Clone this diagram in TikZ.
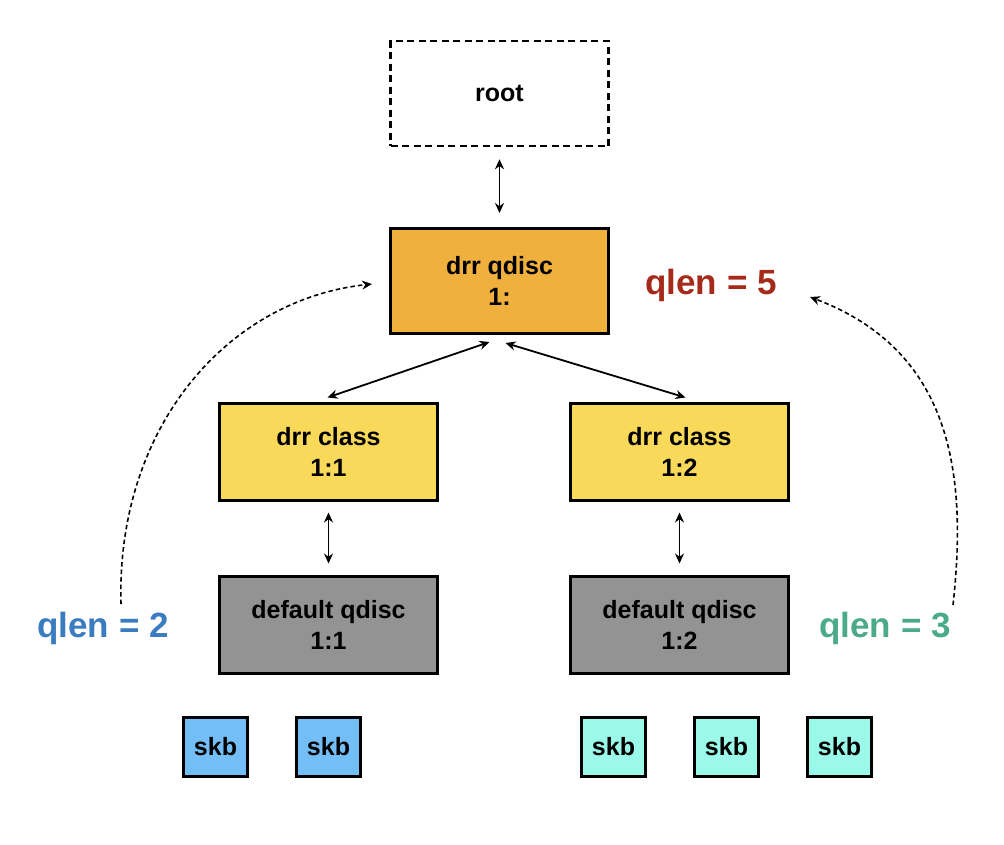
\documentclass[tikz,border=0pt]{standalone}
\usepackage{fontspec}
\setmainfont{Liberation Sans}
\usetikzlibrary{arrows.meta}
\definecolor{cOrange}{RGB}{240,176,62}
\definecolor{cYellow}{RGB}{248,217,90}
\definecolor{cGray}{RGB}{147,147,147}
\definecolor{cBlueSkb}{RGB}{116,190,248}
\definecolor{cCyanSkb}{RGB}{154,249,232}
\definecolor{cRed}{RGB}{166,42,26}
\definecolor{cBlue}{RGB}{58,124,192}
\definecolor{cTeal}{RGB}{76,170,140}
\tikzset{
  box/.style={draw=black, line width=3pt, minimum width=218pt, minimum height=97pt, inner sep=0pt,
    align=center, font=\fontsize{25}{31}\selectfont\bfseries},
  bigbox/.style={box, minimum height=105pt},
  skbbox/.style={draw=black, line width=3pt, minimum width=64pt, minimum height=59pt, inner sep=0pt,
    font=\fontsize{25}{31}\selectfont\bfseries},
  qlab/.style={font=\fontsize{35}{40}\selectfont\bfseries},
  arr/.style={line width=1.8pt, {Stealth[length=10pt,width=9pt]}-{Stealth[length=10pt,width=9pt]}},
  dasharr/.style={line width=1.6pt, dash pattern=on 4.5pt off 3pt, -{Stealth[length=10pt,width=9pt]}}
}
\begin{document}
\begin{tikzpicture}[x=1pt,y=-1pt]
\useasboundingbox (0,0) rectangle (1004,844);
% main boxes
\node[bigbox, dash pattern=on 7pt off 4.5pt, line width=2.5pt] (root) at (499.5,93.5) {root};
\node[bigbox, fill=cOrange] (drr) at (499.5,281) {drr qdisc\\1:};
\node[box, fill=cYellow] (c1) at (328.5,451.5) {drr class\\1:1};
\node[box, fill=cYellow] (c2) at (679.5,451.5) {drr class\\1:2};
\node[box, fill=cGray] (d1) at (328.5,624.5) {default qdisc\\1:1};
\node[box, fill=cGray] (d2) at (679.5,624.5) {default qdisc\\1:2};
% skb boxes
\node[skbbox, fill=cBlueSkb] (s1) at (215.5,747) {skb};
\node[skbbox, fill=cBlueSkb] (s2) at (328.5,747) {skb};
\node[skbbox, fill=cCyanSkb] (s3) at (613.5,747) {skb};
\node[skbbox, fill=cCyanSkb] (s4) at (726.5,747) {skb};
\node[skbbox, fill=cCyanSkb] (s5) at (839.5,747) {skb};
% labels
\node[qlab, text=cRed] (q5) at (711,285) {qlen = 5};
\node[qlab, text=cBlue] (q2) at (103,628) {qlen = 2};
\node[qlab, text=cTeal] (q3) at (885,628) {qlen = 3};
% connectors
\draw[arr, shorten <=12pt, shorten >=14pt] (root) -- (drr);
\draw[arr] ([xshift=-10pt,yshift=-7pt]drr.south) -- ([xshift=-1pt,yshift=4pt]c1.north);
\draw[arr] ([xshift=6pt,yshift=-8pt]drr.south) -- ([xshift=6pt,yshift=4pt]c2.north);
\draw[arr, shorten <=11pt, shorten >=11pt] (c1) -- (d1);
\draw[arr, shorten <=11pt, shorten >=11pt] (c2) -- (d2);
% dashed arcs
\coordinate (la) at (121,604);
\coordinate (lb) at (372,284);
\coordinate (ra) at (953,605);
\coordinate (rb) at (810,297);
\draw[dasharr] (la) .. controls (116,430) and (225,300) .. (lb);
\draw[dasharr] (ra) .. controls (968,470) and (950,350) .. (rb);
\end{tikzpicture}
\end{document}
